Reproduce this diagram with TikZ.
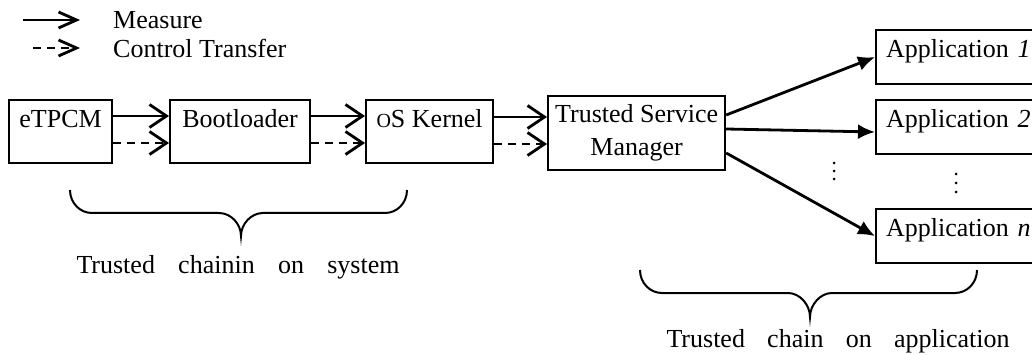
\documentclass[tikz,border=0pt]{standalone}
\usepackage{fontspec}
\setmainfont{Liberation Serif}
\usetikzlibrary{arrows.meta}
\tikzset{boxbase/.style = {draw, line width=2.2pt, anchor=north west, inner xsep=6pt}}
\tikzset{block/.style = {boxbase, inner ysep=0pt, text height=27pt, text depth=36pt}}
\tikzset{appblock/.style = {block, text depth=27pt, text width=170pt, inner xsep=10pt, align=left}}
\tikzset{tsmblock/.style = {boxbase, align=center, minimum height=74pt}}
\tikzset{txt/.style = {inner sep=0pt}}
\tikzset{measure/.style = {-{Straight Barb[length=17pt,width=23pt]}, line width=2.8pt}}
\tikzset{control/.style = {measure, dash pattern=on 7.5pt off 6.5pt}}
\tikzset{call/.style = {-{Latex[length=17pt,width=15pt]}, line width=2.8pt}}
\tikzset{bracepath/.style = {line width=2pt}}

\begin{document}
\begin{tikzpicture}[x=1pt, y=-1pt, font=\fontsize{26}{33}\selectfont]
		\useasboundingbox (0,0) rectangle (1032,355);
		\clip (0,0) rectangle (1032,355);

		% legend
		\coordinate (m1) at (23,20);
		\coordinate (m2) at (80,20);
		\coordinate (c1) at (33,48);
		\coordinate (c2) at (80,48);
		\node[txt, anchor=west] (legmeasure) at (113,20) {Measure};
		\node[txt, anchor=west] (legcontrol) at (113,48) {Control Transfer};
		\draw[measure, -{Straight Barb[length=18pt,width=16pt]}] (m1) -- (m2);
		\draw[control, -{Straight Barb[length=18pt,width=16pt]}] (c1) -- (c2);

		% boxes
		\node[block, minimum width=103pt] (etpcm) at (8,99) {eTPCM};
		\node[block, minimum width=140pt] (boot) at (169,99) {Bootloader};
		\node[block, minimum width=127pt] (kernel) at (365,99) {{\fontsize{20}{20}\selectfont O}S Kernel};
		\node[tsmblock, minimum width=177pt] (tsm) at (547,95) {Trusted Service\\Manager};
		\node[appblock] (app1) at (875,29) {Application \textit{1}};
		\node[appblock] (app2) at (875,99) {Application \textit{2}};
		\node[appblock] (appn) at (875,208) {Application \textit{n}};

		%edges
		\draw[measure] (etpcm.east |- 0,116) -- (boot.west |- 0,116);
		\draw[control] (etpcm.east |- 0,143) -- (boot.west |- 0,143);
		\draw[measure] (boot.east |- 0,116) -- (kernel.west |- 0,116);
		\draw[control] (boot.east |- 0,143) -- (kernel.west |- 0,143);
		\draw[measure] (kernel.east |- 0,117) -- (tsm.west |- 0,117);
		\draw[control] (kernel.east |- 0,144) -- (tsm.west |- 0,144);
		\draw[call] (tsm.east |- 0,115) -- (app1.west);
		\draw[call] (tsm.east |- 0,129) -- (app2.west |- 0,132);
		\draw[call] (tsm.east |- 0,153) -- (appn.west);

		% dots
		\foreach \y in {163,171,179} \fill (834,\y) circle (1.5pt);
		\foreach \y in {174,183,192} \fill (956,\y) circle (1.5pt);

		% braces
		\draw[bracepath] (70,190) .. controls (70,203) and (80,213) .. (92,213) -- (219,213)
			.. controls (231,213) and (241,224) .. (241,236)
			.. controls (241,224) and (251,213) .. (263,213) -- (385,213)
			.. controls (397,213) and (407,203) .. (407,190);
		\draw[bracepath] (640,270) .. controls (640,283) and (650,293) .. (662,293) -- (788,293)
			.. controls (800,293) and (810,305) .. (810,317)
			.. controls (810,305) and (820,293) .. (832,293) -- (955,293)
			.. controls (967,293) and (977,283) .. (977,270);
		\node[txt] (chainsys) at (238,267) {\makebox[323pt][s]{Trusted chainin on system}};
		\node[txt] (chainapp) at (838,341) {\makebox[343pt][s]{Trusted chain on application}};
	\end{tikzpicture}
\end{document}
